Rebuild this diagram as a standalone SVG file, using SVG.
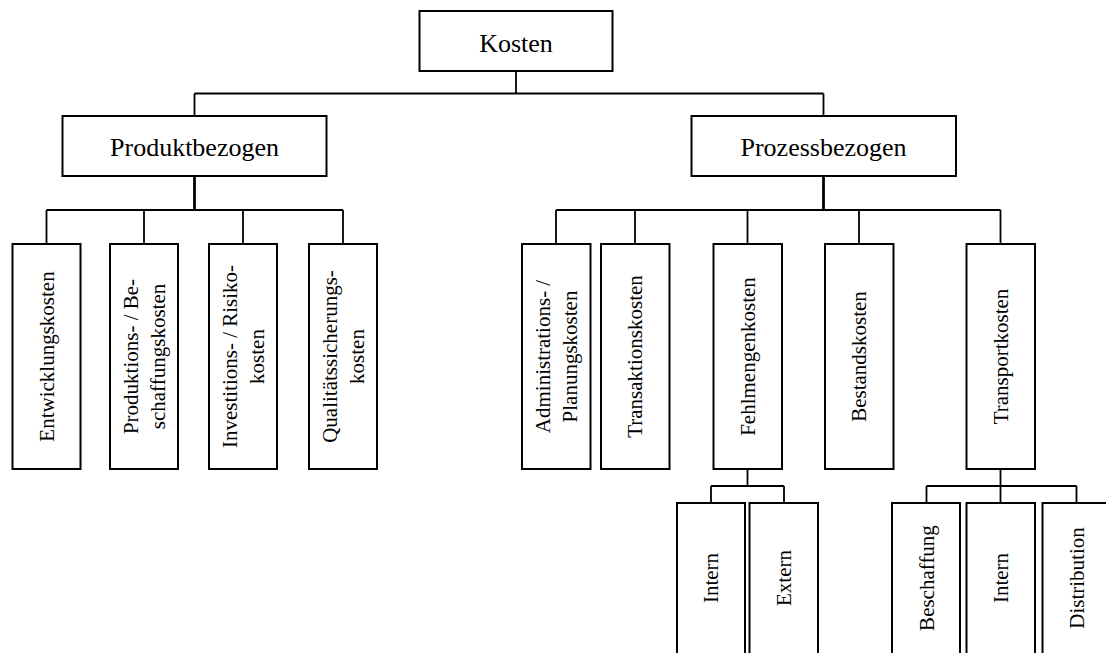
<svg xmlns="http://www.w3.org/2000/svg" width="1106" height="653" viewBox="0 0 1106 653">
  <style>
    .box { fill: #ffffff; stroke: #000000; stroke-width: 2; }
    .ln { fill: none; stroke: #000000; stroke-width: 1.8; }
    .stem { fill: none; stroke: #000000; stroke-width: 2.8; }
    .h { font-family: "Liberation Serif", "Times New Roman", serif; font-size: 26px; fill: #000000; text-anchor: middle; }
    .v { font-family: "Liberation Serif", "Times New Roman", serif; font-size: 21px; fill: #000000; text-anchor: middle; }
  </style>

  <rect width="1106" height="653" fill="#ffffff"/>

  <!-- connectors -->
  <g id="connectors">
    <!-- root to level 1 -->
    <path class="ln" d="M516 71 V93.5 M194.5 93.5 H823.5 M194.5 93.5 V116 M823.5 93.5 V116"/>
    <!-- Produktbezogen to its children -->
    <path class="stem" d="M194.5 176 V210"/>
    <path class="ln" d="M46.5 210 H343 M46.5 210 V244 M144 210 V244 M243 210 V244 M343 210 V244"/>
    <!-- Prozessbezogen to its children -->
    <path class="stem" d="M823.5 176 V210"/>
    <path class="ln" d="M556 210 H1000.5 M556 210 V244 M635 210 V244 M747.5 210 V244 M859 210 V244 M1000.5 210 V244"/>
    <!-- Fehlmengenkosten to Intern / Extern -->
    <path class="ln" d="M747.5 469 V486 M711 486 H784 M711 486 V503 M784 486 V503"/>
    <!-- Transportkosten to Beschaffung / Intern / Distribution -->
    <path class="ln" d="M1000.5 469 V486 M926.5 486 H1076.5 M926.5 486 V503 M1000.5 486 V503 M1076.5 486 V503"/>
  </g>

  <!-- level 0 -->
  <g id="kosten">
    <rect class="box" x="419.5" y="11" width="193" height="60"/>
    <text class="h" x="516" y="52">Kosten</text>
  </g>

  <!-- level 1 -->
  <g id="produktbezogen">
    <rect class="box" x="62.5" y="116" width="264" height="60"/>
    <text class="h" x="194.5" y="156">Produktbezogen</text>
  </g>
  <g id="prozessbezogen">
    <rect class="box" x="691.5" y="116" width="264.5" height="60"/>
    <text class="h" x="823.5" y="156">Prozessbezogen</text>
  </g>

  <!-- level 2, product related -->
  <g id="entwicklungskosten">
    <rect class="box" x="12.5" y="244" width="68" height="225"/>
    <text class="v" transform="translate(46.5 356.5) rotate(-90)" y="7">Entwicklungskosten</text>
  </g>
  <g id="produktionskosten">
    <rect class="box" x="110" y="244" width="68" height="225"/>
    <text class="v" transform="translate(144 356.5) rotate(-90)"><tspan x="0" y="-6">Produktions- / Be-</tspan><tspan x="0" y="21">schaffungskosten</tspan></text>
  </g>
  <g id="investitionskosten">
    <rect class="box" x="209" y="244" width="68" height="225"/>
    <text class="v" transform="translate(243 356.5) rotate(-90)"><tspan x="0" y="-6">Investitions- / Risiko-</tspan><tspan x="0" y="21">kosten</tspan></text>
  </g>
  <g id="qualitaetskosten">
    <rect class="box" x="309" y="244" width="68" height="225"/>
    <text class="v" transform="translate(343 356.5) rotate(-90)"><tspan x="0" y="-6">Qualitätssicherungs-</tspan><tspan x="0" y="21">kosten</tspan></text>
  </g>

  <!-- level 2, process related -->
  <g id="administrationskosten">
    <rect class="box" x="522" y="244" width="68.5" height="225"/>
    <text class="v" transform="translate(556 356.5) rotate(-90)"><tspan x="0" y="-6">Administrations- /</tspan><tspan x="0" y="21">Planungskosten</tspan></text>
  </g>
  <g id="transaktionskosten">
    <rect class="box" x="601" y="244" width="68.5" height="225"/>
    <text class="v" transform="translate(635 356.5) rotate(-90)" y="7">Transaktionskosten</text>
  </g>
  <g id="fehlmengenkosten">
    <rect class="box" x="713.5" y="244" width="68.5" height="225"/>
    <text class="v" transform="translate(747.5 356.5) rotate(-90)" y="7">Fehlmengenkosten</text>
  </g>
  <g id="bestandskosten">
    <rect class="box" x="825" y="244" width="68.5" height="225"/>
    <text class="v" transform="translate(859 356.5) rotate(-90)" y="7">Bestandskosten</text>
  </g>
  <g id="transportkosten">
    <rect class="box" x="966.5" y="244" width="68.5" height="225"/>
    <text class="v" transform="translate(1000.5 356.5) rotate(-90)" y="7">Transportkosten</text>
  </g>

  <!-- level 3, shortage costs -->
  <g id="fehlmenge-intern">
    <rect class="box" x="677" y="503" width="68" height="156"/>
    <text class="v" transform="translate(711 578) rotate(-90)" y="7">Intern</text>
  </g>
  <g id="fehlmenge-extern">
    <rect class="box" x="749.5" y="503" width="68.5" height="156"/>
    <text class="v" transform="translate(784 578) rotate(-90)" y="7">Extern</text>
  </g>

  <!-- level 3, transport costs -->
  <g id="transport-beschaffung">
    <rect class="box" x="892" y="503" width="68" height="156"/>
    <text class="v" transform="translate(926.5 578) rotate(-90)" y="7">Beschaffung</text>
  </g>
  <g id="transport-intern">
    <rect class="box" x="966.5" y="503" width="68.5" height="156"/>
    <text class="v" transform="translate(1000.5 578) rotate(-90)" y="7">Intern</text>
  </g>
  <g id="transport-distribution">
    <rect class="box" x="1042.5" y="503" width="69" height="156"/>
    <text class="v" transform="translate(1076.5 578) rotate(-90)" y="7">Distribution</text>
  </g>
</svg>
